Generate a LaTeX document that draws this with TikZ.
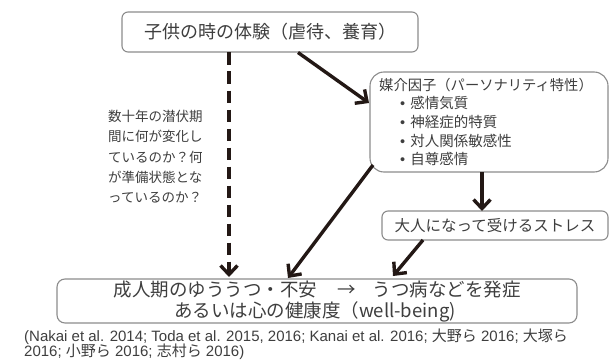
\documentclass[tikz,border=0pt]{standalone}
\usepackage{fontspec}
\setmainfont{Liberation Sans}
\newfontfamily\cjk{Noto Sans CJK JP}
\newfontfamily\latin{Liberation Sans}
\usetikzlibrary{arrows.meta,calc}
\definecolor{boxgray}{HTML}{8C8C8C}
\definecolor{txtgray}{HTML}{3E3E3E}
\definecolor{arrblack}{HTML}{231815}
\newcommand{\fs}[1]{\fontsize{#1}{#1}\selectfont}
\begin{document}
\begin{tikzpicture}[x=1pt,y=-1pt,
  boxstyle/.style={draw=boxgray, line width=1.1pt, rounded corners=6pt, inner sep=0pt, fill=white},
  txt/.style={text=txtgray, inner sep=0pt, font=\cjk},
  arr/.style={draw=arrblack, line width=3.4pt, -{Straight Barb[length=9pt,width=17pt]}},
  dasharr/.style={arr, dash pattern=on 12.5pt off 6.5pt}
]
\useasboundingbox (0,0) rectangle (613,361);

% boxes
\node[boxstyle, minimum width=296pt, minimum height=40pt] (top) at (270,32) {};
\node[txt, font=\cjk\fs{18}] (toptxt) at (270,32) {子供の時の体験（虐待、養育）};

\node[boxstyle, rounded corners=14pt, minimum width=238pt, minimum height=100pt] (med) at (489,122) {};
\node[txt, font=\cjk\fs{14.3}, anchor=west] (medt) at (379,85) {媒介因子（パーソナリティ特性）};
\node[txt, font=\cjk\fs{14.5}, anchor=west] (m1) at (400,103.5) {{\latin•}\hspace{5pt}感情気質};
\node[txt, font=\cjk\fs{14.5}, anchor=west] (m2) at (400,122) {{\latin•}\hspace{5pt}神経症的特質};
\node[txt, font=\cjk\fs{14.5}, anchor=west] (m3) at (400,140.5) {{\latin•}\hspace{5pt}対人関係敏感性};
\node[txt, font=\cjk\fs{14.5}, anchor=west] (m4) at (400,159) {{\latin•}\hspace{5pt}自尊感情};

\node[boxstyle, minimum width=226pt, minimum height=29pt] (stress) at (495,225.5) {};
\node[txt, font=\cjk\fs{15.5}] (stresst) at (495,225.5) {大人になって受けるストレス};

\node[boxstyle, rounded corners=8pt, minimum width=520pt, minimum height=44pt] (bot) at (317,301) {};
\node[txt, font=\cjk\fs{18.5}] (b1) at (317,290) {成人期のゆううつ・不安\hspace{1.1em}→\hspace{0.9em}うつ病などを発症};
\node[txt, font=\cjk\fs{18.5}] (b2) at (315,312) {あるいは心の健康度（well-being)};

% left question text
\node[txt, font=\cjk\fs{13.5}, anchor=west] (q1) at (108,116) {数十年の潜伏期};
\node[txt, font=\cjk\fs{13.5}, anchor=west] (q2) at (108,136.5) {間に何が変化し};
\node[txt, font=\cjk\fs{13.5}, anchor=west] (q3) at (108,157) {ているのか？何};
\node[txt, font=\cjk\fs{13.5}, anchor=west] (q4) at (108,177) {が準備状態とな};
\node[txt, font=\cjk\fs{13.5}, anchor=west] (q5) at (108,197) {っているのか？};

% citation
\node[txt, font=\latin\fs{15}, anchor=west] (c1) at (24,337) {(Nakai et al. 2014; Toda et al. 2015, 2016; Kanai et al. 2016; {\cjk 大野ら} 2016; {\cjk 大塚ら}};
\node[txt, font=\latin\fs{15}, anchor=west] (c2) at (24,352) {2016; {\cjk 小野ら} 2016; {\cjk 志村ら} 2016)};

% connector endpoints
\coordinate (a1s) at (298,52.5);
\coordinate (a1e) at (369,103);
\coordinate (ds) at (229,52.5);
\coordinate (de) at (229,277);
\coordinate (a2s) at (373,165);
\coordinate (a2e) at (288,278);
\coordinate (a3s) at (482,172);
\coordinate (a3e) at (482,211);
\coordinate (a4s) at (423,240);
\coordinate (a4e) at (393,276);

\draw[arr] (a1s) -- (a1e);
\draw[dasharr] (ds) -- (de);
\draw[arr] (a2s) -- (a2e);
\draw[arr] (a3s) -- (a3e);
\draw[arr] (a4s) -- (a4e);
\end{tikzpicture}
\end{document}
